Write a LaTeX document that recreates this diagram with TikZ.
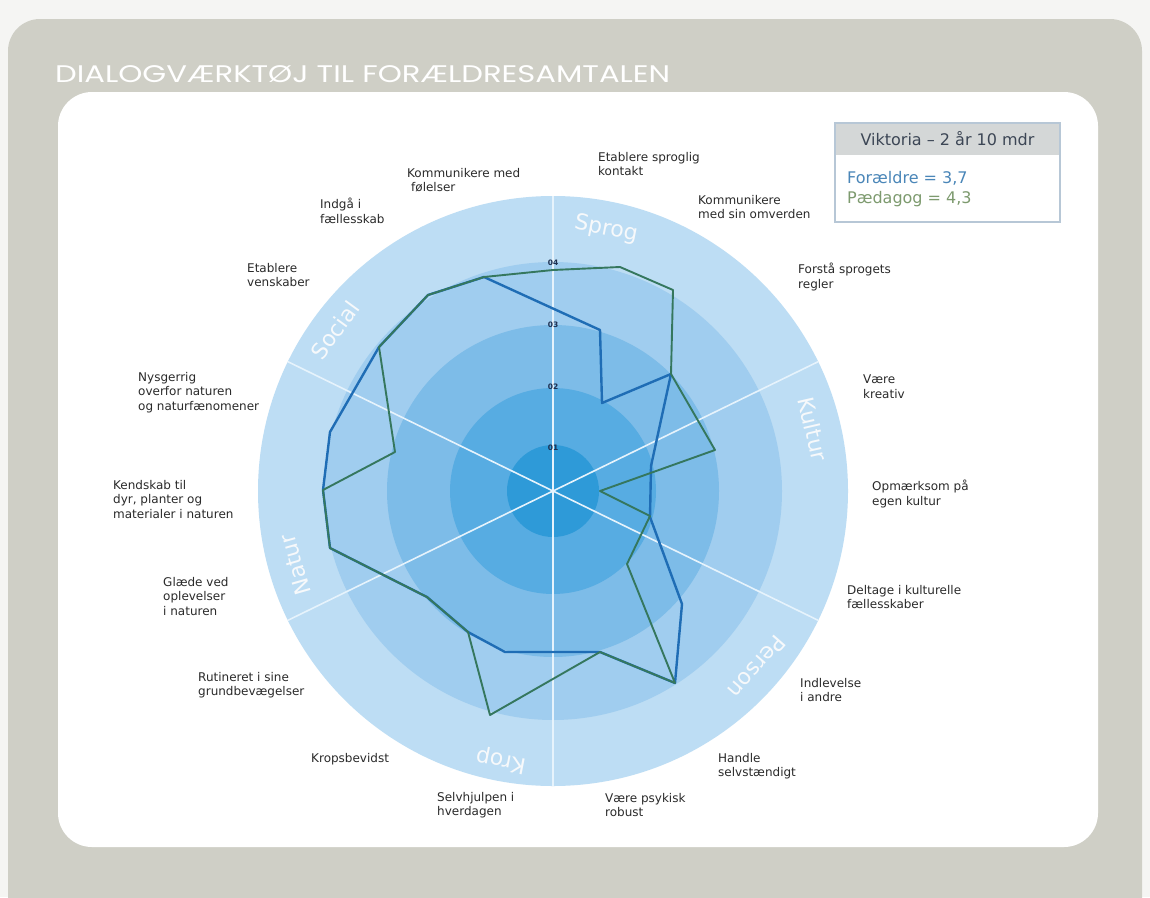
\documentclass[tikz,border=0pt]{standalone}
\usepackage{fontspec}
\usepackage{graphicx}
\setmainfont{DejaVu Sans}
\newfontfamily\titlefont{Poppins}
\usetikzlibrary{calc}
\definecolor{bgout}{HTML}{F5F5F3}
\definecolor{framegray}{HTML}{CFCFC6}
\definecolor{ringE}{HTML}{BDDDF4}
\definecolor{ringD}{HTML}{A0CDEF}
\definecolor{ringC}{HTML}{7DBCE8}
\definecolor{ringB}{HTML}{57ACE2}
\definecolor{ringA}{HTML}{2E9AD8}
\definecolor{axisline}{HTML}{E6F3FC}
\definecolor{parentcol}{HTML}{1F6DB5}
\definecolor{teachercol}{HTML}{35775E}
\definecolor{labeltext}{HTML}{2A2A2A}
\definecolor{tickcol}{HTML}{1D2F50}
\definecolor{legborder}{HTML}{B7C7D6}
\definecolor{leghead}{HTML}{D4D7D7}
\definecolor{legheadtext}{HTML}{3C4655}
\definecolor{legparent}{HTML}{4A86B8}
\definecolor{legteacher}{HTML}{7D9A6E}
\definecolor{cattextcol}{HTML}{F7F9FB}
\newcommand{\catlabel}[5]{%
  \node[cattext, rotate=#4] (#1) at (#2,#3) {#5};}
\tikzset{
  lbl/.style={font=\fontsize{12}{14.5}\selectfont, align=left, anchor=north west, inner sep=0pt, text=labeltext},
  ticklbl/.style={font=\fontsize{7.5}{8}\selectfont\bfseries, text=tickcol, inner sep=0pt},
  cattext/.style={font=\fontsize{22}{22}\selectfont, text=cattextcol, inner sep=0pt},
  axisstyle/.style={draw=axisline, line width=1.6pt},
  parentline/.style={draw=parentcol, line width=2.4pt, line join=round},
  teacherline/.style={draw=teachercol, line width=1.9pt, line join=round},
}
\begin{document}
\begin{tikzpicture}[x=1pt,y=-1pt]
\useasboundingbox (0,0) rectangle (1150,897);
\fill[bgout] (0,0) rectangle (1150,897);
\fill[framegray, rounded corners=32pt] (8,19) rectangle (1142,940);
\node[anchor=base west, inner sep=0pt, text=white] (title) at (55,82)
  {\resizebox{615pt}{\height}{\titlefont\fontsize{24}{24}\selectfont DIALOGVÆRKTØJ TIL FORÆLDRESAMTALEN}};
\fill[white, rounded corners=34pt] (58,92) rectangle (1098,847);

% rings
\coordinate (c) at (553,491);
\fill[ringE] (c) circle[radius=295];
\fill[ringD] (c) circle[radius=229];
\fill[ringC] (c) circle[radius=166];
\fill[ringB] (c) circle[radius=103];
\fill[ringA] (c) circle[radius=46];

% axes
\coordinate (axT) at ($(c)+(90:295)$);
\coordinate (axB) at ($(c)+(-90:295)$);
\coordinate (axR1) at ($(c)+(26:295)$);
\coordinate (axL1) at ($(c)+(206:295)$);
\coordinate (axR2) at ($(c)+(-26:295)$);
\coordinate (axL2) at ($(c)+(154:295)$);
\draw[axisstyle] (axT) -- (axB);
\draw[axisstyle] (axR1) -- (axL1);
\draw[axisstyle] (axR2) -- (axL2);

% tick labels
\node[ticklbl] (t1) at (553,448) {01};
\node[ticklbl] (t2) at (553,387) {02};
\node[ticklbl] (t3) at (553,325) {03};
\node[ticklbl] (t4) at (553,263) {04};

% parent polygon (blue)
\coordinate (b1) at (484,277);
\coordinate (b2) at (600,330);
\coordinate (b3) at (602,403);
\coordinate (b4) at (671,374);
\coordinate (b5) at (651,466);
\coordinate (b6) at (650,517);
\coordinate (b7) at (682,604);
\coordinate (b8) at (675,683);
\coordinate (b9) at (600,652);
\coordinate (b10) at (505,652);
\coordinate (b11) at (468,632);
\coordinate (b12) at (427,597);
\coordinate (b13) at (330,548);
\coordinate (b14) at (323,490);
\coordinate (b15) at (330,432);
\coordinate (b16) at (379,347);
\coordinate (b17) at (428,295);
\draw[parentline] (b1) -- (b2) -- (b3) -- (b4) -- (b5) -- (b6) -- (b7) -- (b8) -- (b9)
  -- (b10) -- (b11) -- (b12) -- (b13) -- (b14) -- (b15) -- (b16) -- (b17) -- cycle;

% teacher polygon (green)
\coordinate (g1) at (553,270);
\coordinate (g2) at (620,267);
\coordinate (g3) at (673,290);
\coordinate (g4) at (671,374);
\coordinate (g5) at (715,450);
\coordinate (g6) at (600,491);
\coordinate (g7) at (650,516);
\coordinate (g8) at (627,564);
\coordinate (g9) at (675,683);
\coordinate (g10) at (600,652);
\coordinate (g11) at (490,715);
\coordinate (g12) at (468,632);
\coordinate (g13) at (427,597);
\coordinate (g14) at (330,548);
\coordinate (g15) at (323,490);
\coordinate (g16) at (395,452);
\coordinate (g17) at (379,347);
\coordinate (g18) at (428,295);
\coordinate (g19) at (484,277);
\draw[teacherline] (g1) -- (g2) -- (g3) -- (g4) -- (g5) -- (g6) -- (g7) -- (g8) -- (g9)
  -- (g10) -- (g11) -- (g12) -- (g13) -- (g14) -- (g15) -- (g16) -- (g17) -- (g18) -- (g19) -- cycle;

% category labels
\catlabel{sprog}{606}{229}{-11}{Sprog}
\catlabel{kultur}{813}{429}{-77}{Kultur}
\catlabel{person}{757}{667}{-131}{Person}
\catlabel{krop}{501}{760}{169}{Krop}
\catlabel{natur}{295}{565}{106}{Natur}
\catlabel{social}{335}{330}{54}{Social}

% item labels
\node[lbl] (l1) at (598,152) {Etablere sproglig\\kontakt};
\node[lbl] (l2) at (698,195) {Kommunikere\\med sin omverden};
\node[lbl] (l3) at (798,263) {Forstå sprogets\\regler};
\node[lbl] (l4) at (863,375) {Være\\kreativ};
\node[lbl] (l5) at (872,480) {Opmærksom på\\egen kultur};
\node[lbl] (l6) at (847,585) {Deltage i kulturelle\\fællesskaber};
\node[lbl] (l7) at (800,678) {Indlevelse\\i andre};
\node[lbl] (l8) at (718,753) {Handle\\selvstændigt};
\node[lbl] (l9) at (605,793) {Være psykisk\\robust};
\node[lbl] (l10) at (437,792) {Selvhjulpen i\\hverdagen};
\node[lbl] (l11) at (311,753) {Kropsbevidst};
\node[lbl] (l12) at (198,672) {Rutineret i sine\\grundbevægelser};
\node[lbl] (l13) at (163,577) {Glæde ved\\oplevelser\\i naturen};
\node[lbl] (l14) at (113,480) {Kendskab til\\dyr, planter og\\materialer i naturen};
\node[lbl] (l15) at (138,372) {Nysgerrig\\overfor naturen\\og naturfænomener};
\node[lbl] (l16) at (247,263) {Etablere\\venskaber};
\node[lbl] (l17) at (320,198) {Indgå i\\fællesskab};
\node[lbl] (l18) at (407,168) {Kommunikere med\\\hspace*{4pt}følelser};

% legend
\fill[leghead] (835,123) rectangle (1060,155);
\node[draw=legborder, line width=1.3pt, minimum width=225pt, minimum height=99pt, inner sep=0pt] (legbox) at (947.5,172.5) {};
\node[text=legheadtext, font=\fontsize{16}{18}\selectfont, inner sep=0pt] (legtitle) at (947.5,139) {Viktoria – 2 år 10 mdr};
\node[anchor=west, text=legparent, font=\fontsize{16}{18}\selectfont, inner sep=0pt] (legpar) at (847,178) {Forældre = 3,7};
\node[anchor=west, text=legteacher, font=\fontsize{16}{18}\selectfont, inner sep=0pt] (legped) at (847,199) {Pædagog = 4,3};
\end{tikzpicture}
\end{document}
